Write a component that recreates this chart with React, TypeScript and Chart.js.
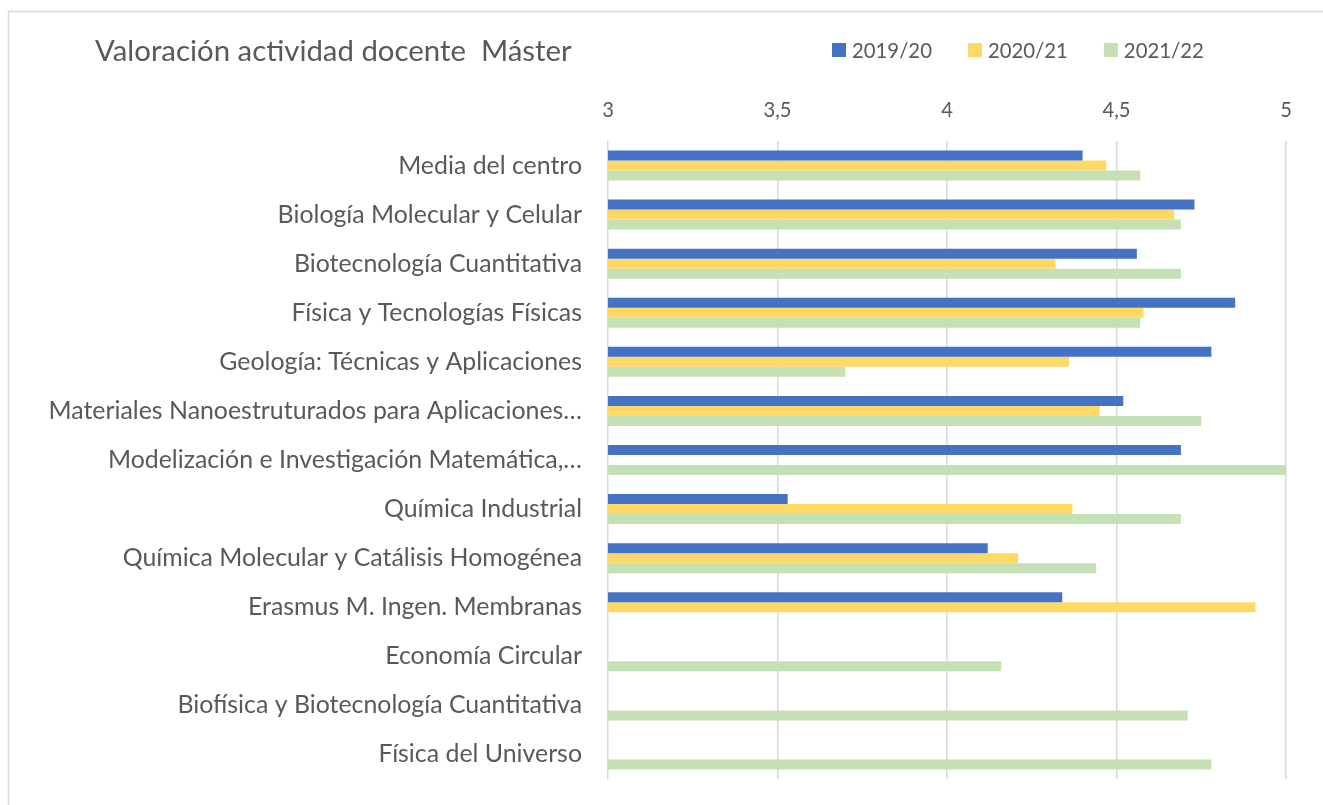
import React, { useEffect, useRef } from "react";
import { Chart, registerables } from "chart.js";

Chart.register(...registerables);

const chartTitle = "Valoración actividad docente  Máster";

const categories = [
  "Media del centro",
  "Biología Molecular y Celular",
  "Biotecnología Cuantitativa",
  "Física y Tecnologías Físicas",
  "Geología: Técnicas y Aplicaciones",
  "Materiales Nanoestruturados para Aplicaciones…",
  "Modelización e Investigación Matemática,…",
  "Química Industrial",
  "Química Molecular y Catálisis Homogénea",
  "Erasmus M. Ingen. Membranas",
  "Economía Circular",
  "Biofísica y Biotecnología Cuantitativa",
  "Física del Universo",
];

const seriesLabels = ["2019/20", "2020/21", "2021/22"];

const values2019 = [4.4, 4.73, 4.56, 4.85, 4.78, 4.52, 4.69, 3.53, 4.12, 4.34, null, null, null];
const values2020 = [4.47, 4.67, 4.32, 4.58, 4.36, 4.45, null, 4.37, 4.21, 4.91, null, null, null];
const values2021 = [4.57, 4.69, 4.69, 4.57, 3.7, 4.75, 5.0, 4.69, 4.44, null, 4.16, 4.71, 4.78];

const xMin = 3;
const xMax = 5;
const xStep = 0.5;

const seriesColors = ["#4472C4", "#FFD966", "#C5E0B4"];

const FONT = "Lato";
const TEXT = "#595959";
const GRID = "#D9D9D9";

function fitSize(text: string, target: number): number {
  const c = document.createElement("canvas").getContext("2d")!;
  c.font = `100px ${FONT}`;
  return (100 * target) / c.measureText(text).width;
}

export default function App() {
  const canvasRef = useRef<HTMLCanvasElement | null>(null);

  useEffect(() => {
    const canvas = canvasRef.current;
    if (!canvas) return;

    const labelSize = fitSize("Media del centro", 184);
    const tickSize = fitSize("3,5", 28);
    const titleSize = fitSize(chartTitle, 477);
    const legendSize = fitSize("2019/20", 80);

    const header = {
      id: "header",
      beforeDraw(chart: any) {
        const ctx = chart.ctx;
        ctx.save();
        ctx.strokeStyle = GRID;
        ctx.lineWidth = 1.5;
        ctx.strokeRect(8.5, 11.5, 3000, 3000);
        ctx.restore();
      },
      afterDraw(chart: any) {
        const ctx = chart.ctx;
        ctx.save();
        ctx.fillStyle = TEXT;
        ctx.textBaseline = "alphabetic";
        ctx.textAlign = "left";
        ctx.font = `${titleSize}px ${FONT}`;
        ctx.fillText(chartTitle, 95, 60.5);

        ctx.font = `${legendSize}px ${FONT}`;
        let x = 832;
        chart.data.datasets.forEach((ds: any) => {
          ctx.fillStyle = ds.backgroundColor;
          ctx.fillRect(x, 43, 14, 14);
          x += 20;
          ctx.fillStyle = TEXT;
          ctx.fillText(ds.label, x, 57.5);
          x += ctx.measureText(ds.label).width + 36;
        });
        ctx.restore();
      },
    };

    const chart = new Chart(canvas, {
      type: "bar",
      data: {
        labels: categories,
        datasets: [
          { label: seriesLabels[0], data: values2019, backgroundColor: seriesColors[0] },
          { label: seriesLabels[1], data: values2020, backgroundColor: seriesColors[1] },
          { label: seriesLabels[2], data: values2021, backgroundColor: seriesColors[2] },
        ],
      },
      options: {
        indexAxis: "y",
        animation: false,
        responsive: false,
        maintainAspectRatio: false,
        layout: { padding: { left: 8, right: 37, top: 0, bottom: 26 } },
        datasets: {
          bar: { categoryPercentage: 0.611, barPercentage: 1.0, borderWidth: 0 },
        },
        plugins: {
          legend: { display: false },
          title: { display: false },
          tooltip: { enabled: false },
        },
        scales: {
          x: {
            position: "top",
            min: xMin,
            max: xMax,
            ticks: {
              stepSize: xStep,
              color: TEXT,
              font: { family: FONT, size: tickSize, lineHeight: 1.2 },
              padding: 31 - tickSize * 0.6,
              callback: (v: any) => String(v).replace(".", ","),
            },
            grid: { color: GRID, lineWidth: 1.5, drawTicks: false },
            border: { display: false },
            afterFit: (scale: any) => {
              scale.height = 141;
              scale.paddingLeft = 0;
              scale.paddingRight = 0;
            },
          },
          y: {
            ticks: {
              color: TEXT,
              font: { family: FONT, size: labelSize },
              padding: 26,
              autoSkip: false,
            },
            grid: { display: false, drawTicks: false },
            border: { display: false },
            afterFit: (scale: any) => {
              scale.width = 600;
              scale.paddingTop = 0;
              scale.paddingBottom = 0;
            },
          },
        },
      },
      plugins: [header],
    });

    return () => chart.destroy();
  }, []);

  return (
    <div style={{ position: "absolute", left: 0, top: 0, width: 1323, height: 805, background: "#fff" }}>
      <canvas ref={canvasRef} width={1323} height={805} style={{ display: "block" }} />
    </div>
  );
}
